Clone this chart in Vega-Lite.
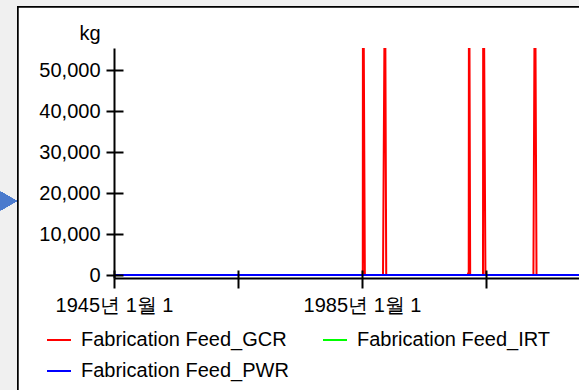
{
  "$schema": "https://vega.github.io/schema/vega-lite/v6.json",
  "width": 465,
  "height": 230,
  "autosize": {"type": "none"},
  "padding": {"left": 114, "top": 48, "right": 0, "bottom": 112},
  "background": "#f0f0f0",
  "config": {
    "view": {"stroke": null},
    "font": "Liberation Sans",
    "axis": {"grid": false}
  },
  "data": {
    "values": [
      {"date": "1945-01-01", "kg": 0, "series": "Fabrication Feed_GCR"},
      {"date": "1985-02-15", "kg": 0, "series": "Fabrication Feed_GCR"},
      {"date": "1985-03-01", "kg": 95000, "series": "Fabrication Feed_GCR"},
      {"date": "1985-06-18", "kg": 0, "series": "Fabrication Feed_GCR"},
      {"date": "1988-05-22", "kg": 0, "series": "Fabrication Feed_GCR"},
      {"date": "1988-09-16", "kg": 80000, "series": "Fabrication Feed_GCR"},
      {"date": "1988-11-28", "kg": 0, "series": "Fabrication Feed_GCR"},
      {"date": "2002-01-25", "kg": 0, "series": "Fabrication Feed_GCR"},
      {"date": "2002-02-20", "kg": 600, "series": "Fabrication Feed_GCR"},
      {"date": "2002-03-20", "kg": 0, "series": "Fabrication Feed_GCR"},
      {"date": "2002-04-05", "kg": 95000, "series": "Fabrication Feed_GCR"},
      {"date": "2002-06-13", "kg": 0, "series": "Fabrication Feed_GCR"},
      {"date": "2004-07-08", "kg": 0, "series": "Fabrication Feed_GCR"},
      {"date": "2004-07-23", "kg": 95000, "series": "Fabrication Feed_GCR"},
      {"date": "2004-11-28", "kg": 0, "series": "Fabrication Feed_GCR"},
      {"date": "2012-08-25", "kg": 0, "series": "Fabrication Feed_GCR"},
      {"date": "2012-11-24", "kg": 85000, "series": "Fabrication Feed_GCR"},
      {"date": "2013-02-23", "kg": 0, "series": "Fabrication Feed_GCR"},
      {"date": "2020-01-01", "kg": 0, "series": "Fabrication Feed_GCR"},
      {"date": "1945-01-01", "kg": 0, "series": "Fabrication Feed_IRT"},
      {"date": "2020-01-01", "kg": 0, "series": "Fabrication Feed_IRT"},
      {"date": "1945-01-01", "kg": 0, "series": "Fabrication Feed_PWR"},
      {"date": "2020-01-01", "kg": 0, "series": "Fabrication Feed_PWR"}
    ]
  },
  "layer": [
    {
      "mark": {"type": "rect", "fill": "white", "stroke": "black", "strokeWidth": 1.5, "clip": false},
      "encoding": {
        "x": {"datum": {"year": 1929, "month": 7, "date": 8}, "type": "temporal", "axis": null},
        "x2": {"datum": {"year": 2035, "month": 1, "date": 1}},
        "y": {"datum": 65500, "type": "quantitative", "axis": null},
        "y2": {"datum": -31000}
      }
    },
    {
      "mark": {"type": "point", "shape": "triangle-right", "filled": true, "color": "#4a7acd", "opacity": 1, "size": 340, "clip": false},
      "encoding": {
        "x": {"datum": {"year": 1928, "month": 1, "date": 1}, "type": "temporal", "axis": null},
        "y": {"datum": 18100, "type": "quantitative", "axis": null}
      }
    },
    {
      "mark": {"type": "line", "strokeWidth": 2, "clip": true},
      "encoding": {
        "x": {
          "field": "date", "type": "temporal",
          "scale": {"domain": [{"year": 1945, "month": 1, "date": 1}, {"year": 2020, "month": 1, "date": 1}]},
          "axis": {
            "orient": "bottom",
            "zindex": 2,
            "title": null,
            "values": [{"year": 1945, "month": 1, "date": 1}, {"year": 1965, "month": 1, "date": 1}, {"year": 1985, "month": 1, "date": 1}, {"year": 2005, "month": 1, "date": 1}],
            "labelExpr": "year(datum.value) % 40 == 25 ? year(datum.value) + '년 1월 1' : ''",
            "labelFontSize": 20,
            "labelColor": "black",
            "labelPadding": 7,
            "labelFlush": false,
            "labelOverlap": false,
            "tickSize": 10,
            "tickWidth": 2,
            "tickColor": "black",
            "domainColor": "black",
            "domainWidth": 2
          }
        },
        "y": {
          "field": "kg", "type": "quantitative",
          "scale": {"domain": [-730, 55500], "nice": false, "zero": false},
          "axis": {
            "orient": "left",
            "zindex": 2,
            "title": "kg",
            "titleAngle": 0,
            "titleAlign": "right",
            "titleBaseline": "alphabetic",
            "titleX": -14,
            "titleY": -9,
            "titleFontSize": 20,
            "titleFontWeight": "normal",
            "titleColor": "black",
            "values": [0, 10000, 20000, 30000, 40000, 50000],
            "format": ",d",
            "labelFontSize": 20,
            "labelColor": "black",
            "labelPadding": 6,
            "labelFlush": false,
            "tickSize": 8,
            "tickWidth": 2,
            "tickColor": "black",
            "domainColor": "black",
            "domainWidth": 2
          }
        },
        "color": {
          "field": "series", "type": "nominal",
          "scale": {"domain": ["Fabrication Feed_GCR", "Fabrication Feed_IRT", "Fabrication Feed_PWR"], "range": ["#ff0000", "#00ff00", "#0000ff"]},
          "legend": {
            "orient": "none",
            "legendX": -68,
            "legendY": 279,
            "columns": 2,
            "columnPadding": 30,
            "rowPadding": 8,
            "values": ["Fabrication Feed_GCR", "Fabrication Feed_PWR", "Fabrication Feed_IRT"],
            "title": null,
            "symbolType": "stroke",
            "symbolSize": 576,
            "symbolStrokeWidth": 2,
            "labelFontSize": 20,
            "labelColor": "black",
            "labelOffset": 9,
            "labelLimit": 400,
            "zindex": 2
          }
        }
      }
    },
    {
      "mark": {"type": "line", "opacity": 0, "clip": true},
      "encoding": {
        "x": {
          "field": "date", "type": "temporal",
          "axis": {
            "orient": "bottom", "zindex": 2, "offset": -8, "title": null, "labels": false, "domain": false,
            "values": [{"year": 1945, "month": 1, "date": 1}, {"year": 1965, "month": 1, "date": 1}, {"year": 1985, "month": 1, "date": 1}, {"year": 2005, "month": 1, "date": 1}],
            "tickSize": 8, "tickWidth": 2, "tickColor": "black"
          }
        },
        "y": {
          "field": "kg", "type": "quantitative",
          "axis": {
            "orient": "left", "zindex": 2, "offset": -9, "title": null, "labels": false, "domain": false,
            "values": [0, 10000, 20000, 30000, 40000, 50000],
            "tickSize": 9, "tickWidth": 2, "tickColor": "black"
          }
        },
        "detail": {"field": "series"}
      }
    }
  ],
  "resolve": {"axis": {"x": "independent", "y": "independent"}}
}
